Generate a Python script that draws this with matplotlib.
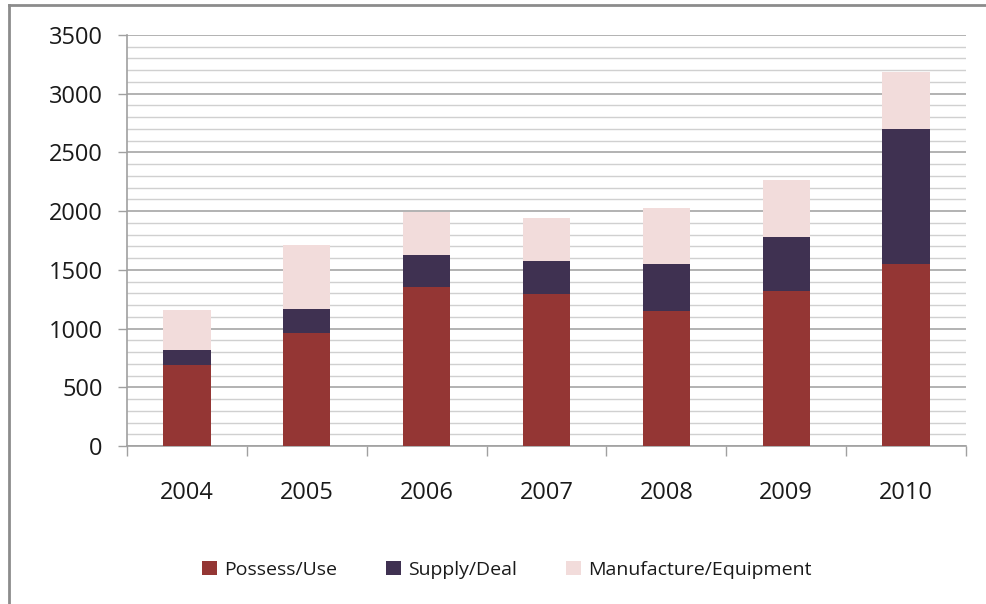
import matplotlib
matplotlib.use("Agg")
import matplotlib.pyplot as plt
from matplotlib.lines import Line2D
import numpy as np

years = ["2004", "2005", "2006", "2007", "2008", "2009", "2010"]
possess_use = [690, 960, 1350, 1297, 1147, 1317, 1550]
supply_deal = [127, 207, 273, 276, 403, 460, 1147]
manufacture_equipment = [341, 545, 371, 369, 480, 491, 488]
series_names = ["Possess/Use", "Supply/Deal", "Manufacture/Equipment"]
colors = ["#943634", "#3F3151", "#F2DCDB"]

plt.rcParams['font.family'] = ['Open Sans', 'DejaVu Sans']

W, H = 987, 604
fig = plt.figure(figsize=(W / 100, H / 100), dpi=100)
ax = fig.add_axes([127 / W, (H - 446) / H, (966 - 127) / W, (446 - 35) / H])

x = np.arange(len(years))
bottom = np.zeros(len(years))
handles = []
for vals, name, c in zip([possess_use, supply_deal, manufacture_equipment], series_names, colors):
    b = ax.bar(x, vals, width=0.395, bottom=bottom, color=c, label=name, zorder=3, linewidth=0)
    bottom += np.array(vals)
    handles.append(b)

ax.set_xlim(-0.5, len(years) - 0.5)
ax.set_ylim(0, 3500)

# y ticks & grid
ax.set_yticks(np.arange(0, 3501, 500))
ax.set_yticks(np.arange(0, 3501, 100), minor=True)
ax.yaxis.grid(True, which='major', color='#A6A6A6', linewidth=1.2, zorder=0)
ax.yaxis.grid(True, which='minor', color='#D0D0D0', linewidth=1.0, zorder=0)
ax.tick_params(axis='y', which='major', length=6.5, width=1, color='#A0A0A0',
               labelsize=17, pad=11, labelcolor='#1a1a1a')
ax.tick_params(axis='y', which='minor', length=0)

# x ticks: marks at boundaries, labels at centers
ax.set_xticks(np.arange(-0.5, len(years), 1.0))
ax.set_xticklabels([])
ax.set_xticks(x, minor=True)
ax.set_xticklabels(years, minor=True)
ax.tick_params(axis='x', which='major', length=7, width=1, color='#A0A0A0', direction='out')
ax.tick_params(axis='x', which='minor', length=0, labelsize=17, pad=25, labelcolor='#1a1a1a')

for s in ['top', 'right']:
    ax.spines[s].set_visible(False)
for s in ['left', 'bottom']:
    ax.spines[s].set_color('#A0A0A0')
    ax.spines[s].set_linewidth(1.2)
ax.set_axisbelow(True)

fig.legend(handles=handles, labels=series_names, loc='center',
           bbox_to_anchor=(507 / W, 1 - 570 / H), ncol=3, frameon=False,
           fontsize=14, handlelength=0.75, handleheight=0.75, handletextpad=0.4,
           columnspacing=2.5, labelcolor='#1a1a1a')

# outer frame (top and left edges)
fig.add_artist(Line2D([9 / W, 1.0], [1 - 5 / H, 1 - 5 / H], color='#8c8c8c', linewidth=2,
                      transform=fig.transFigure))
fig.add_artist(Line2D([9 / W, 9 / W], [1 - 5 / H, 0.0], color='#8c8c8c', linewidth=2,
                      transform=fig.transFigure))

fig.savefig("out.png", dpi=100)
